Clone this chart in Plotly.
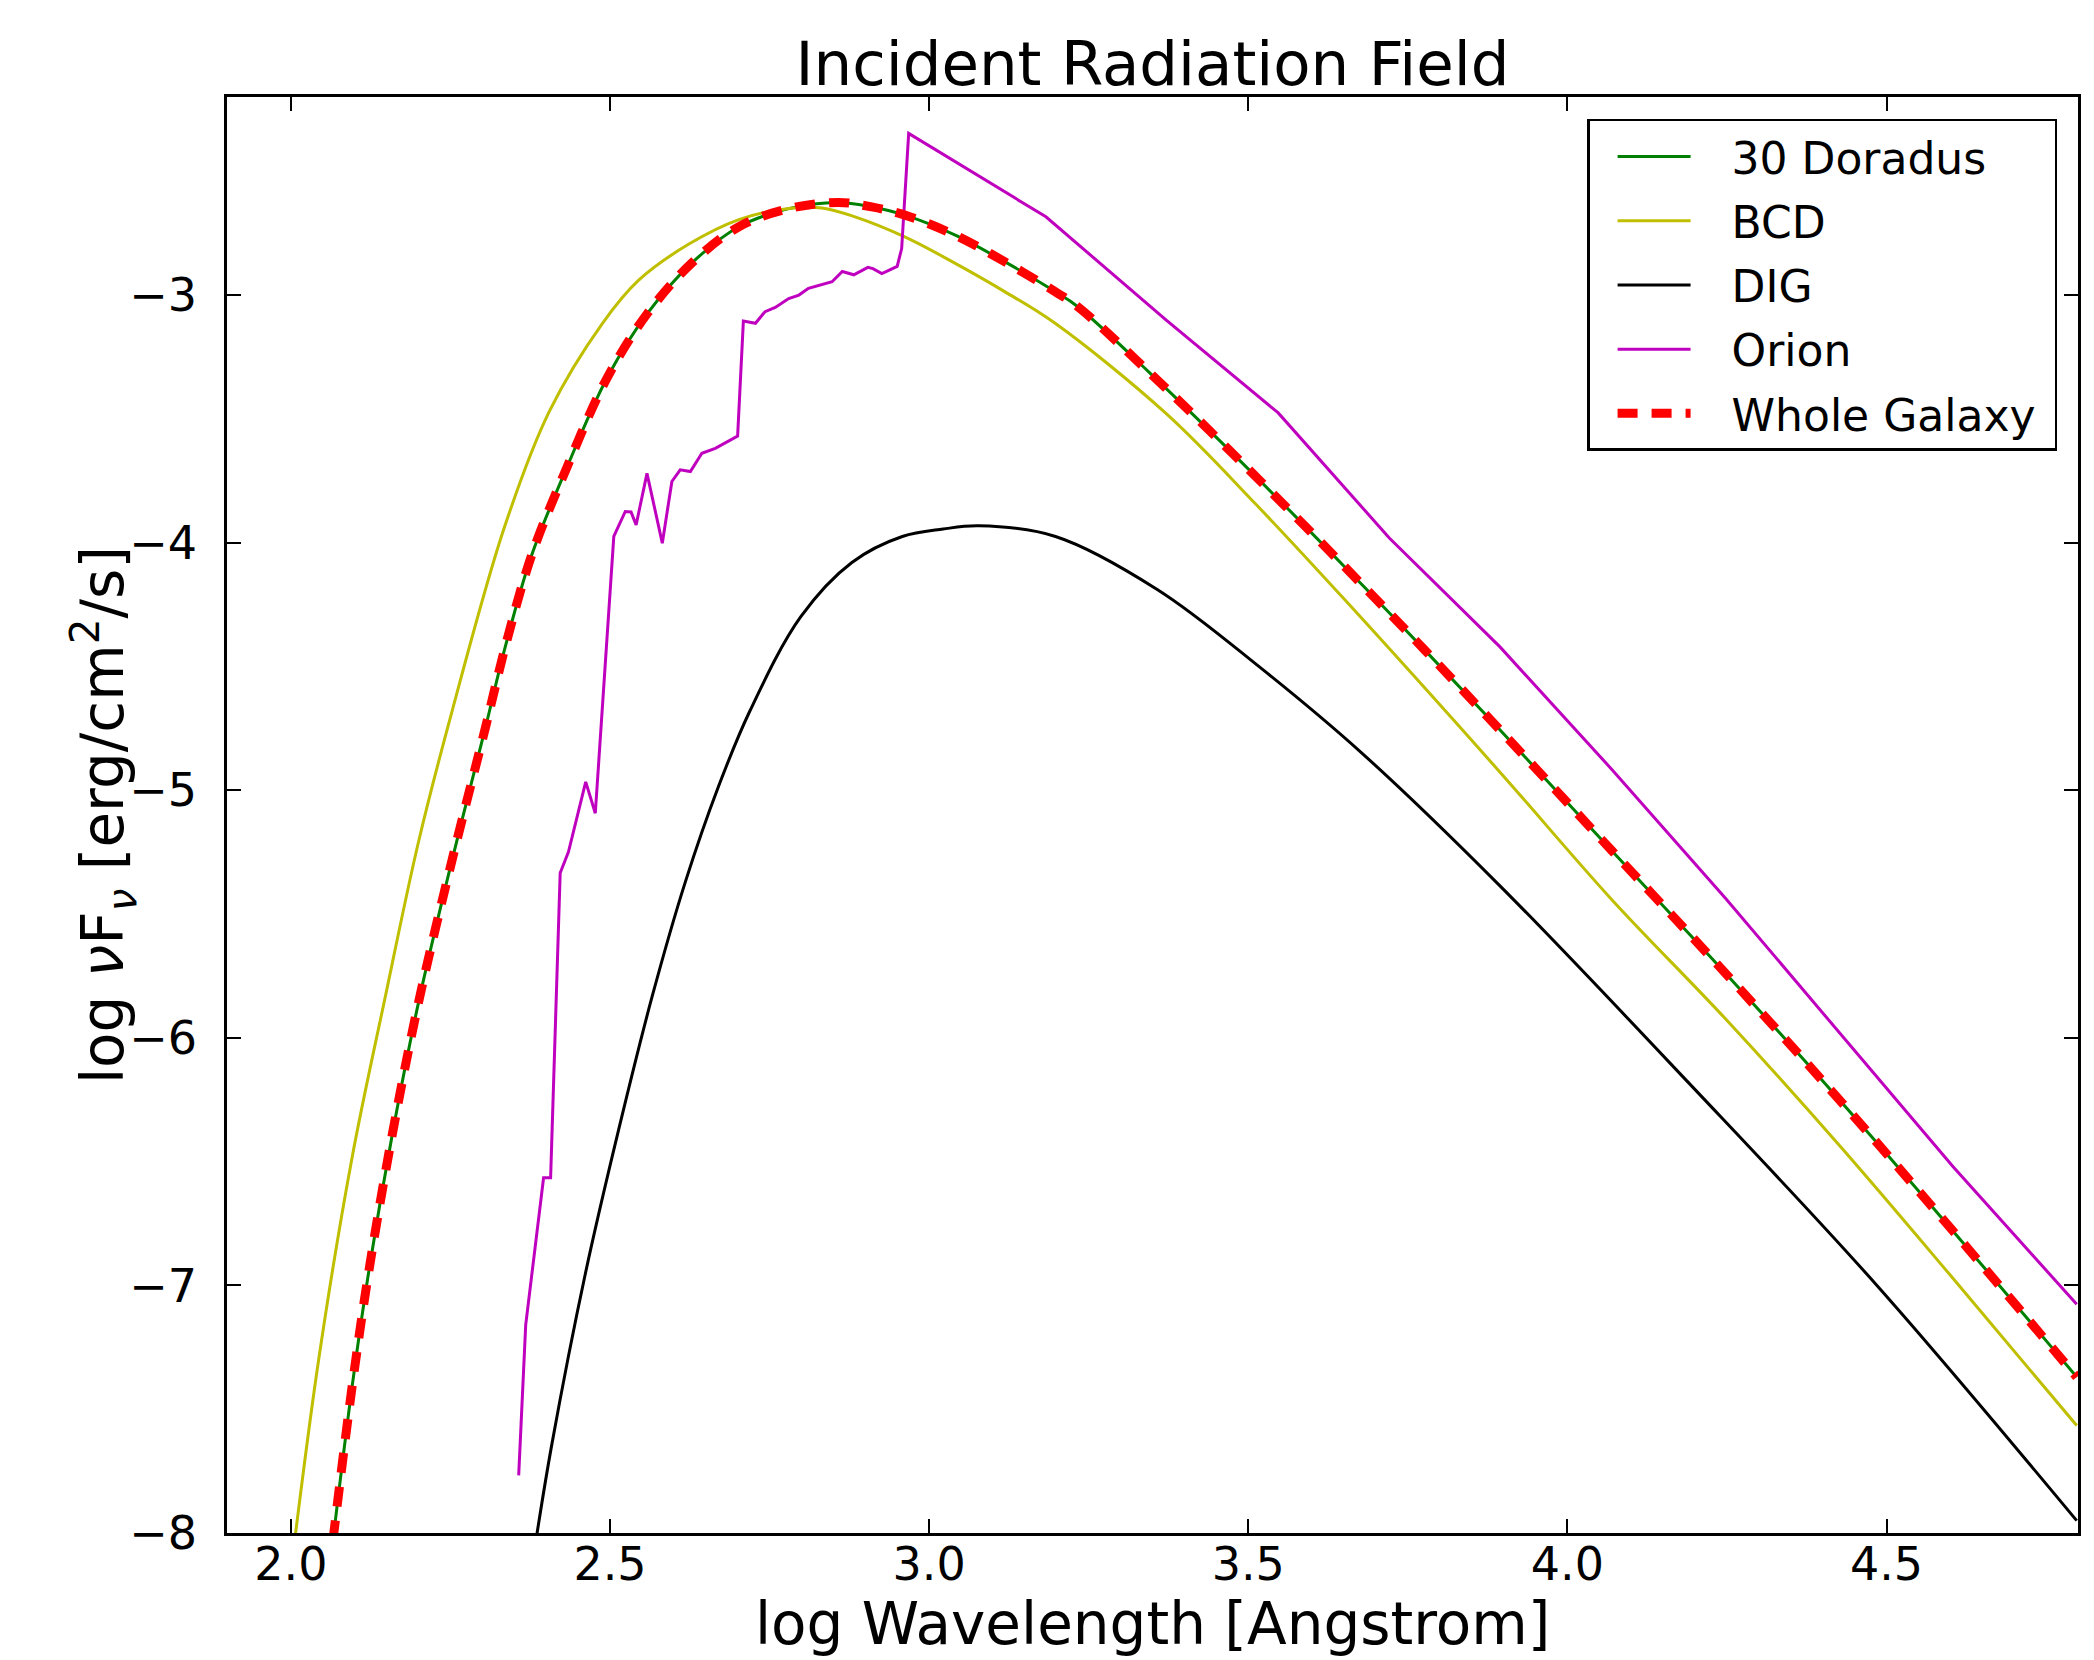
import plotly.graph_objects as go

# ---- data (log wavelength [Angstrom], log nuF_nu) ----
dor_x = [2.066, 2.096, 2.122, 2.159, 2.200, 2.253, 2.305, 2.336, 2.377, 2.433, 2.496, 2.559,
         2.628, 2.702, 2.780, 2.858, 2.910, 2.962, 3.041, 3.119, 3.198, 3.232, 3.344, 3.456,
         3.582, 3.686, 3.777, 3.892, 4.070, 4.248, 4.426, 4.604, 4.798]
dor_y = [-8.03, -7.409, -6.946, -6.390, -5.858, -5.278, -4.746, -4.420, -4.053, -3.693, -3.332, -3.073,
         -2.871, -2.724, -2.651, -2.626, -2.644, -2.677, -2.758, -2.866, -2.987, -3.045, -3.310, -3.590,
         -3.915, -4.190, -4.435, -4.750, -5.245, -5.740, -6.250, -6.780, -7.370]

bcd_x = [2.007, 2.044, 2.096, 2.148, 2.200, 2.253, 2.335, 2.405, 2.488, 2.545, 2.623,
         2.702, 2.780, 2.832, 2.884, 2.962, 3.041, 3.119, 3.198, 3.372, 3.512, 3.651,
         3.892, 4.070, 4.248, 4.426, 4.604, 4.798]
bcd_y = [-8.01, -7.293, -6.483, -5.834, -5.209, -4.677, -3.935, -3.470, -3.115, -2.940, -2.795,
         -2.695, -2.650, -2.648, -2.684, -2.765, -2.872, -2.987, -3.115, -3.480, -3.845, -4.230,
         -4.920, -5.443, -5.924, -6.434, -6.971, -7.566]

dig_x = [2.384, 2.409, 2.462, 2.514, 2.566, 2.618, 2.670, 2.719, 2.799, 2.879, 2.958, 3.022,
         3.078, 3.198, 3.358, 3.518, 3.678, 3.892, 4.189, 4.485, 4.798]
dig_y = [-8.03, -7.641, -6.946, -6.367, -5.834, -5.371, -4.985, -4.681, -4.299, -4.080, -3.975, -3.945,
         -3.932, -3.975, -4.190, -4.503, -4.850, -5.380, -6.179, -7.000, -7.950]

orion_x = [2.357, 2.368, 2.396, 2.407, 2.422, 2.435, 2.462, 2.477, 2.506, 2.524, 2.533, 2.541,
           2.558, 2.582, 2.597, 2.610, 2.626, 2.644, 2.665, 2.689, 2.700, 2.709, 2.728, 2.743,
           2.759, 2.780, 2.796, 2.811, 2.838, 2.848, 2.864, 2.882, 2.904, 2.912, 2.926, 2.950,
           2.957, 2.968, 3.183, 3.372, 3.547, 3.721, 3.894, 4.070, 4.248, 4.426, 4.604, 4.798]
orion_y = [-7.767, -7.159, -6.565, -6.565, -5.334, -5.249, -4.966, -5.093, -3.975, -3.874, -3.876, -3.928,
           -3.720, -4.002, -3.753, -3.706, -3.713, -3.639, -3.619, -3.585, -3.570, -3.105, -3.114, -3.067,
           -3.050, -3.014, -3.000, -2.973, -2.953, -2.946, -2.905, -2.918, -2.888, -2.893, -2.913, -2.884,
           -2.812, -2.347, -2.684, -3.102, -3.476, -3.981, -4.420, -4.917, -5.437, -5.980, -6.520, -7.076]

gal_x = list(dor_x)
gal_y = list(dor_y)

x_ticks = [2.0, 2.5, 3.0, 3.5, 4.0, 4.5]
y_ticks = [-8, -7, -6, -5, -4, -3]

FONT = "DejaVu Sans"
PAD = "\u00a0\u2002"   # visual gap between legend line sample and its label

fig = go.Figure()
fig.add_trace(go.Scatter(x=dor_x, y=dor_y, mode="lines", name=PAD + "30 Doradus\u00a0", legendgroup="a",
                         line=dict(color="#008000", width=3, shape="spline", smoothing=1.0)))
fig.add_trace(go.Scatter(x=bcd_x, y=bcd_y, mode="lines", name=PAD + "BCD\u00a0", legendgroup="b",
                         line=dict(color="#bfbf00", width=3, shape="spline", smoothing=1.0)))
fig.add_trace(go.Scatter(x=dig_x, y=dig_y, mode="lines", name=PAD + "DIG\u00a0", legendgroup="c",
                         line=dict(color="#000000", width=3, shape="spline", smoothing=1.0)))
fig.add_trace(go.Scatter(x=orion_x, y=orion_y, mode="lines", name=PAD + "Orion\u00a0", legendgroup="d",
                         line=dict(color="#bf00bf", width=3)))
fig.add_trace(go.Scatter(x=gal_x, y=gal_y, mode="lines", name=PAD + "Whole Galaxy\u00a0", legendgroup="e",
                         line=dict(color="#ff0000", width=9, dash="20px,14px", shape="spline", smoothing=1.0)))

axis_common = dict(
    showgrid=False, zeroline=False, showline=True, linecolor="black", linewidth=2.5,
    mirror="allticks", ticks="inside", ticklen=14, tickwidth=2, tickcolor="black",
    tickfont=dict(family=FONT, size=46, color="black"),
)

fig.update_xaxes(range=[1.9, 4.8], tickvals=x_ticks, ticktext=[f"{v:.1f}" for v in x_ticks],
                 ticklabelstandoff=-11, **axis_common)
fig.update_yaxes(range=[-8, -2.2], tickvals=y_ticks, ticktext=[f"\u2212{abs(v)}" for v in y_ticks],
                 ticklabelstandoff=18, **axis_common)

# axis titles, placed as text beside the tick labels
fig.add_annotation(text="log Wavelength [Angstrom]",
                   font=dict(family=FONT, size=58, color="black"),
                   xref="paper", yref="paper", x=0.5, y=(1533 - 1624) / 1436,
                   xanchor="center", yanchor="middle", showarrow=False)
fig.add_annotation(text="log <i>\u03bd</i>F<sub><i>\u03bd</i></sub> [erg/cm<sup>2</sup>/s]",
                   font=dict(family=FONT, size=58, color="black"), textangle=-90,
                   xref="paper", yref="paper", x=(103 - 227) / 1851, y=0.5,
                   xanchor="center", yanchor="middle", showarrow=False)

fig.update_layout(
    width=2094, height=1660,
    margin=dict(l=227, r=16, t=97, b=127, autoexpand=False),
    paper_bgcolor="white", plot_bgcolor="white",
    font=dict(family=FONT, color="black"),
    title=dict(text="Incident Radiation Field", font=dict(family=FONT, size=61, color="black"),
               x=0.5, xref="paper", xanchor="center", y=1 - 64 / 1660, yref="container", yanchor="middle"),
    legend=dict(x=0.9887, y=0.9847, xanchor="right", yanchor="top",
                bordercolor="black", borderwidth=2.5, bgcolor="white",
                font=dict(family=FONT, size=44, color="black"),
                traceorder="grouped", tracegroupgap=4, itemwidth=73, indentation=23),
    showlegend=True,
)

fig.write_html("out.html", config={"displayModeBar": False},
               post_script="document.body.style.margin='0';document.body.style.overflow='hidden';")
